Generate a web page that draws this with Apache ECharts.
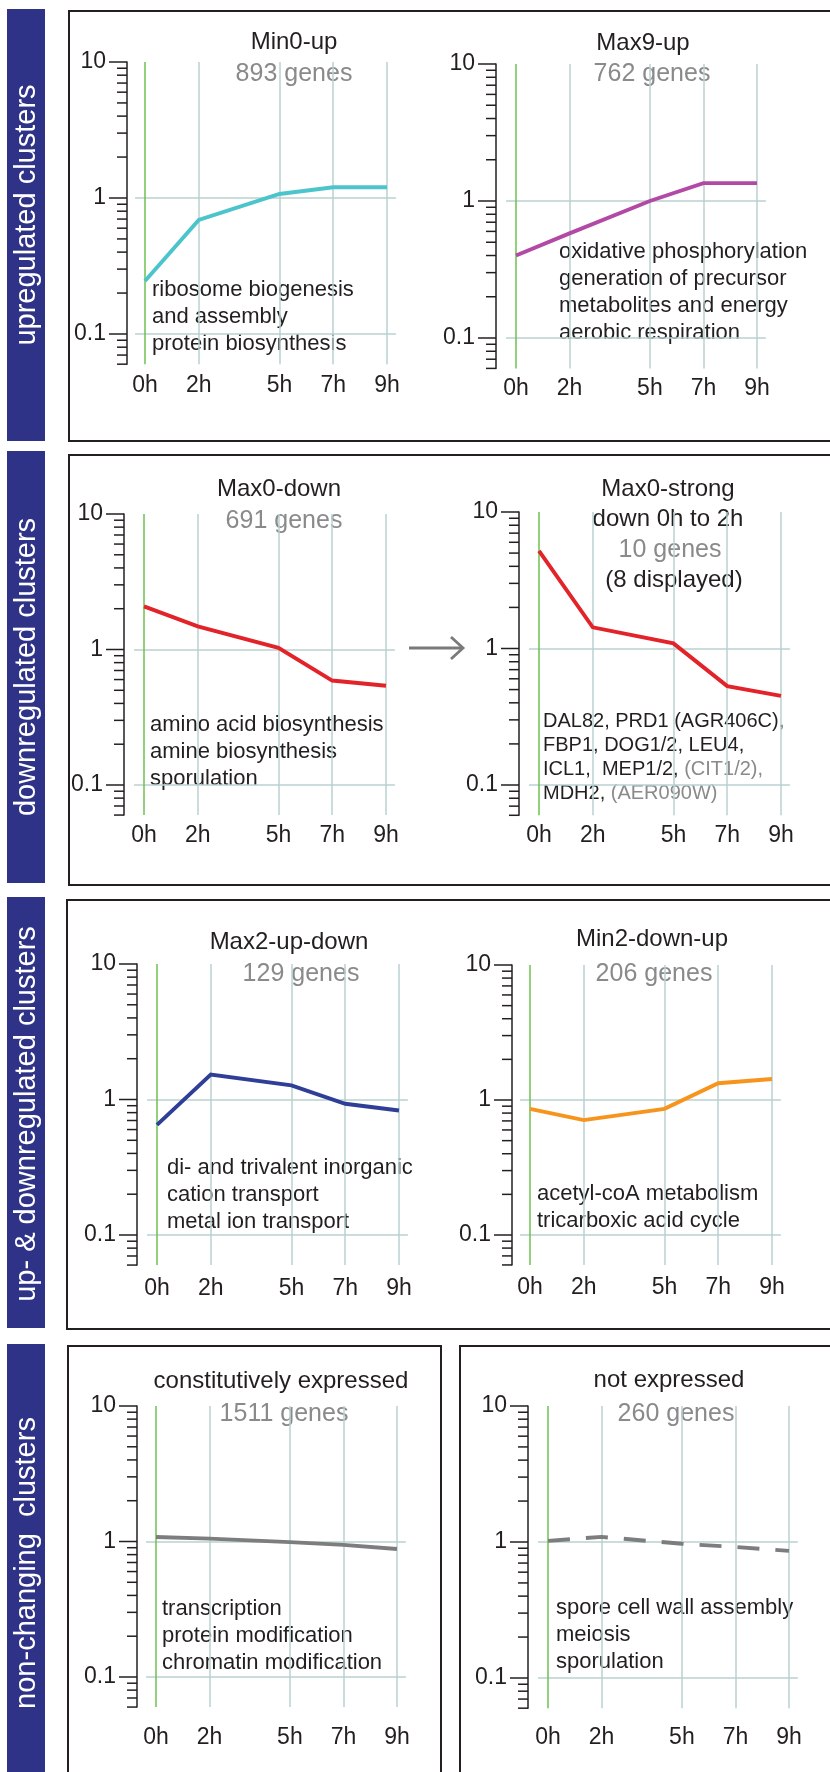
<!DOCTYPE html>
<html><head><meta charset="utf-8">
<script src="https://cdn.jsdelivr.net/npm/echarts@6/dist/echarts.min.js"></script>
<style>html,body{margin:0;padding:0;background:#fff}#c{width:830px;height:1772px}</style>
</head><body><div id="c"></div>
<script>
// ---------- data ----------
const TIMES = [0, 2, 5, 7, 9];
const TIME_LABELS = ['0h', '2h', '5h', '7h', '9h'];
const Y_LABEL_VALUES = [0.1, 1, 10];
const Y_TICK_VALUES = [0.06, 0.07, 0.08, 0.09, 0.1, 0.2, 0.3, 0.4, 0.5, 0.6, 0.7, 0.8, 0.9,
  1, 2, 3, 4, 5, 6, 7, 8, 9, 10];

const MIN0_UP       = [0.245, 0.69, 1.07, 1.20, 1.20];
const MAX9_UP       = [0.40, 0.58, 1.00, 1.35, 1.35];
const MAX0_DOWN     = [2.08, 1.48, 1.03, 0.59, 0.54];
const MAX0_STRONG   = [5.2, 1.43, 1.09, 0.53, 0.45];
const MAX2_UP_DOWN  = [0.65, 1.53, 1.27, 0.93, 0.83];
const MIN2_DOWN_UP  = [0.86, 0.71, 0.86, 1.33, 1.43];
const CONSTITUTIVE  = [1.08, 1.05, 0.99, 0.945, 0.88];
const NOT_EXPRESSED = [1.02, 1.09, 0.97, 0.92, 0.86];

const SERIES_VALUES = [MIN0_UP, MAX9_UP, MAX0_DOWN, MAX0_STRONG, MAX2_UP_DOWN, MIN2_DOWN_UP, CONSTITUTIVE, NOT_EXPRESSED];
const CLUSTER_TITLES = ['Min0-up', 'Max9-up', 'Max0-down', 'Max0-strong\ndown 0h to 2h', 'Max2-up-down', 'Min2-down-up', 'constitutively expressed', 'not expressed'];
const GENE_COUNTS = ['893 genes', '762 genes', '691 genes', '10 genes', '129 genes', '206 genes', '1511 genes', '260 genes'];
const EXTRA_NOTE = '(8 displayed)';
const GROUP_LABELS = ['upregulated clusters', 'downregulated clusters', 'up- & downregulated clusters', 'non-changing  clusters'];
const ANNOTATIONS = [
  ['ribosome biogenesis', 'and assembly', 'protein biosynthesis'],
  ['oxidative phosphorylation', 'generation of precursor', 'metabolites and energy', 'aerobic respiration'],
  ['amino acid biosynthesis', 'amine biosynthesis', 'sporulation'],
  null,
  ['di- and trivalent inorganic', 'cation transport', 'metal ion transport'],
  ['acetyl-coA metabolism', 'tricarboxic acid cycle'],
  ['transcription', 'protein modification', 'chromatin modification'],
  ['spore cell wall assembly', 'meiosis', 'sporulation']
];
// gene list of Max0-strong: [text, isGrey]
const GENE_LIST = [
  [['DAL82, PRD1 (AGR406C),', false]],
  [['FBP1, DOG1/2, LEU4,', false]],
  [['ICL1,  MEP1/2, ', false], ['(CIT1/2),', true]],
  [['MDH2, ', false], ['(AER090W)', true]]
];

// ---------- styles / layout ----------
const FONT = '"Liberation Sans", Arial, Helvetica, sans-serif';
const INK = '#231f20';
const GREY_TXT = '#8a8a8a';
const GRID_C = '#b9d0d1';
const GREEN = '#6fc04f';
const NAVY = '#2e3388';
const LINE_COLORS = ['#4cc4cb', '#b24aa5', '#e3232a', '#e3232a', '#2f3e96', '#f7941d', '#7d7d7d', '#7d7d7d'];
const X_MIN = -0.37, X_MAX = 9.33, Y_MIN = 0.06, Y_MAX = 10;

const PANELS = [
  {x0:145, x9:387, y10:62,   y01:334,  axisX:127, xLab:10, title:[294,42],   count:[294,74],   note:[152,298]},
  {x0:516, x9:757, y10:64,   y01:338,  axisX:496, xLab:9,  title:[643,43],   count:[652,74],   note:[559,260]},
  {x0:144, x9:386, y10:514,  y01:785,  axisX:124, xLab:9,  title:[279,489],  count:[284,521],  note:[150,733]},
  {x0:539, x9:781, y10:512,  y01:785,  axisX:519, xLab:9,  title:[668,489],  count:[670,550],  note:[543,728], extra:[674,580]},
  {x0:157, x9:399, y10:964,  y01:1235, axisX:137, xLab:12, title:[289,942],  count:[301,974],  note:[167,1176]},
  {x0:530, x9:772, y10:965,  y01:1235, axisX:512, xLab:11, title:[652,939],  count:[654,974],  note:[537,1202]},
  {x0:156, x9:397, y10:1406, y01:1677, axisX:137, xLab:19, title:[281,1381], count:[284,1414], note:[162,1617]},
  {x0:548, x9:789, y10:1406, y01:1678, axisX:528, xLab:18, title:[669,1380], count:[676,1414], note:[556,1616]}
];
const BANDS = [[9, 441, 215], [451, 883, 667], [897, 1328, 1114], [1344, 1772, 1563]];
const BOXES = [[69, 11, 800, 430], [69, 455, 800, 430], [67, 900, 800, 429], [68, 1346, 373, 500], [460, 1346, 500, 500]];

const grids = [], xAxes = [], yAxes = [], series = [], graphics = [];
const TEXT_Z = -1;

PANELS.forEach((p, i) => {
  const pph = (p.x9 - p.x0) / 9;
  const dec = (p.y01 - p.y10) / 2;
  const left = p.x0 + X_MIN * pph;
  const offset = left - p.axisX;
  grids.push({left: left, top: p.y10, width: (X_MAX - X_MIN) * pph,
    height: dec * (Math.log10(Y_MAX) - Math.log10(Y_MIN)), containLabel: false, outerBoundsMode: 'none'});
  xAxes.push({
    type: 'value', gridIndex: i, min: X_MIN, max: X_MAX,
    axisLine: {show: false, onZero: false},
    axisTick: {show: false, customValues: TIMES},
    axisLabel: {customValues: TIMES, margin: p.xLab, fontSize: 23, color: INK, fontFamily: FONT,
      formatter: v => TIME_LABELS[TIMES.indexOf(Math.round(v))] || ''},
    splitLine: {show: true, lineStyle: {color: [GREEN, GRID_C, GRID_C, GRID_C, GRID_C], width: 1.5}}
  });
  yAxes.push({
    type: 'log', logBase: 10, gridIndex: i, min: Y_MIN, max: Y_MAX, offset: offset, position: 'left',
    axisLine: {show: true, onZero: false, lineStyle: {color: INK, width: 1.5}},
    axisTick: {show: false},
    axisLabel: {showMinLabel: false, margin: 21, fontSize: 23, color: INK, fontFamily: FONT,
      formatter: v => Y_LABEL_VALUES.some(t => Math.abs(t - v) < 1e-9) ? String(+v) : ''},
    splitLine: {show: true, lineStyle: {color: ['rgba(0,0,0,0)', GRID_C, GRID_C, 'rgba(0,0,0,0)'], width: 1.5}}
  });
  series.push({
    type: 'line', xAxisIndex: i, yAxisIndex: i, symbol: 'none', silent: true, z: 3,
    data: TIMES.map((t, k) => [t, SERIES_VALUES[i][k]]),
    lineStyle: {color: LINE_COLORS[i], width: 3.9, type: i === 7 ? [22, 16] : 'solid', cap: 'butt', join: 'miter'},
    itemStyle: {color: LINE_COLORS[i]}
  });
  series.push({
    type: 'custom', xAxisIndex: i, yAxisIndex: i, silent: true, clip: false, z: 4,
    data: Y_TICK_VALUES.map(v => [X_MIN, v]),
    renderItem: (params, api) => {
      const v = api.value(1);
      const pt = api.coord([api.value(0), v]);
      const lg = Math.log10(v);
      const major = Math.abs(lg - Math.round(lg)) < 1e-6;
      const len = major ? 18 : 10;
      const ax = pt[0] - offset;
      return {type: 'line', shape: {x1: ax - len, y1: pt[1], x2: ax, y2: pt[1]},
        style: {stroke: INK, lineWidth: 1.5}};
    }
  });

  // titles
  CLUSTER_TITLES[i].split('\n').forEach((t, k) => {
    graphics.push({type: 'text', x: p.title[0], y: p.title[1] + k * 30, z: TEXT_Z,
      style: {text: t, fill: INK, fontSize: 24, fontFamily: FONT, align: 'center', verticalAlign: 'middle', textAlign: 'center', textVerticalAlign: 'middle'}});
  });
  graphics.push({type: 'text', x: p.count[0], y: p.count[1], z: TEXT_Z,
    style: {text: GENE_COUNTS[i], fill: GREY_TXT, fontSize: 25, fontFamily: FONT, align: 'center', verticalAlign: 'middle', textAlign: 'center', textVerticalAlign: 'middle'}});
  if (p.extra) {
    graphics.push({type: 'text', x: p.extra[0], y: p.extra[1], z: TEXT_Z,
      style: {text: EXTRA_NOTE, fill: INK, fontSize: 24, fontFamily: FONT, align: 'center', verticalAlign: 'middle', textAlign: 'center', textVerticalAlign: 'middle'}});
  }
  // annotations
  if (ANNOTATIONS[i]) {
    const fs = 22, L = 26.7;
    graphics.push({type: 'text', x: p.note[0], y: p.note[1] - 0.3465 * fs - L / 2, z: TEXT_Z,
      style: {text: ANNOTATIONS[i].join('\n'), fill: INK, fontSize: fs, lineHeight: L, fontFamily: FONT,
        align: 'left', verticalAlign: 'top', textAlign: 'left', textVerticalAlign: 'top'}});
  } else {
    const fs = 20, L = 24.3;
    const txt = GENE_LIST.map(line => line.map(([s, g]) => '{' + (g ? 'g' : 'k') + '|' + s + '}').join('')).join('\n');
    graphics.push({type: 'text', x: p.note[0], y: p.note[1] - 0.3465 * fs - L / 2, z: TEXT_Z,
      style: {text: txt, fontSize: fs, lineHeight: L, fontFamily: FONT, fill: INK,
        align: 'left', verticalAlign: 'top', textAlign: 'left', textVerticalAlign: 'top',
        rich: {k: {fill: INK, color: INK, fontSize: fs, lineHeight: L, fontFamily: FONT},
               g: {fill: GREY_TXT, color: GREY_TXT, fontSize: fs, lineHeight: L, fontFamily: FONT}}}});
  }
});

// side bands
BANDS.forEach((b, i) => {
  graphics.push({type: 'rect', shape: {x: 7, y: b[0], width: 38, height: b[1] - b[0]}, style: {fill: NAVY}, z: 1});
  graphics.push({type: 'text', x: 27, y: b[2], rotation: Math.PI / 2, z: 2,
    style: {text: GROUP_LABELS[i], fill: '#ffffff', fontSize: 29, fontFamily: FONT,
      align: 'center', verticalAlign: 'middle', textAlign: 'center', textVerticalAlign: 'middle'}});
});
// frames
BOXES.forEach(b => {
  graphics.push({type: 'rect', shape: {x: b[0], y: b[1], width: b[2], height: b[3]},
    style: {fill: 'none', stroke: INK, lineWidth: 2}, z: 1});
});
// arrow
graphics.push({type: 'polyline', shape: {points: [[409, 648], [462, 648]]}, style: {stroke: '#7a7a7a', lineWidth: 2.8, fill: 'none'}, z: 5});
graphics.push({type: 'polyline', shape: {points: [[451, 637], [463, 648], [451, 659]]}, style: {stroke: '#7a7a7a', lineWidth: 2.8, fill: 'none'}, z: 5});

const chart = echarts.init(document.getElementById('c'), null, {renderer: 'canvas', width: 830, height: 1772});
chart.setOption({
  animation: false,
  backgroundColor: '#ffffff',
  textStyle: {fontFamily: FONT},
  grid: grids, xAxis: xAxes, yAxis: yAxes, series: series,
  graphic: {elements: graphics}
});
</script></body></html>
